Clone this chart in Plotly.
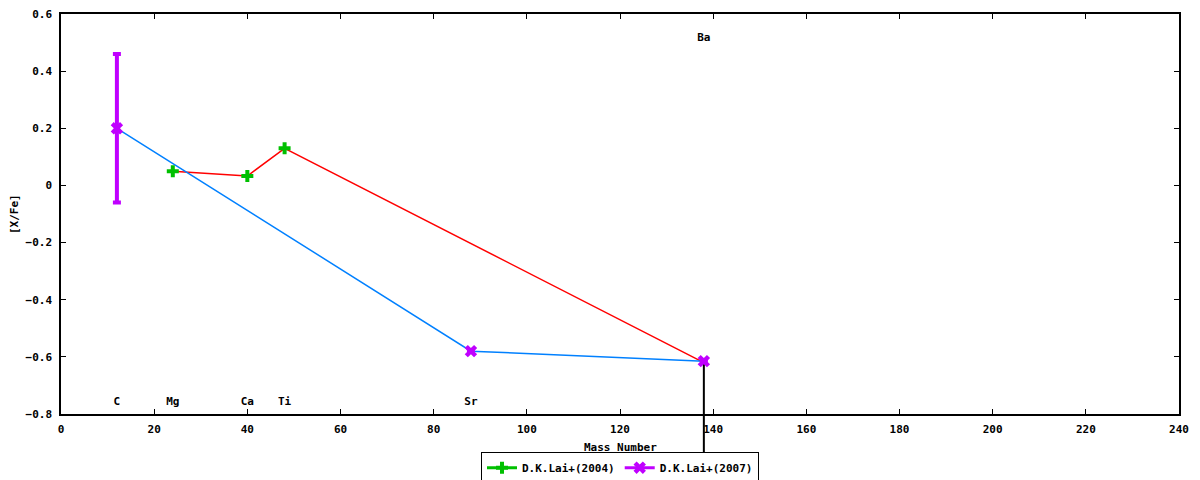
import plotly.graph_objects as go

# element labels and where they sit
elements = ["C", "Mg", "Ca", "Ti", "Sr", "Ba"]
label_mass = [12, 24, 40, 48, 88, 138]
label_y = [-0.76, -0.76, -0.76, -0.76, -0.76, 0.515]

# D.K.Lai+(2004)
lai04_mass = [24, 40, 48, 138]
lai04_xfe = [0.05, 0.033, 0.13, -0.62]

# D.K.Lai+(2007)
lai07_mass = [12, 88, 138]
lai07_xfe = [0.20, -0.58, -0.615]
lai07_err = [0.26, 0.0, 0.0]

# Ba lower-limit bar (black)
ba_mass = [138]
ba_xfe = [-0.62]
ba_err_minus = [0.6]

FONT = dict(family="DejaVu Sans Mono", size=11, color="black", weight="bold")
GREEN = "#00c000"
MAGENTA = "#c000ff"

fig = go.Figure()

# connecting lines
fig.add_trace(go.Scatter(x=lai04_mass, y=lai04_xfe, mode="lines",
                         line=dict(color="#ff0000", width=1.5), showlegend=False, hoverinfo="skip"))
fig.add_trace(go.Scatter(x=lai07_mass, y=lai07_xfe, mode="lines",
                         line=dict(color="#0080ff", width=1.5), showlegend=False, hoverinfo="skip"))

# black bar at Ba, continued below the frame
fig.add_trace(go.Scatter(x=ba_mass, y=ba_xfe, mode="markers", marker=dict(size=1, opacity=0),
                         error_y=dict(type="data", symmetric=False, array=[0], arrayminus=ba_err_minus,
                                      color="black", thickness=2, width=0),
                         showlegend=False, hoverinfo="skip"))
fig.add_shape(type="line", xref="x", yref="paper", x0=ba_mass[0], x1=ba_mass[0], y0=0, y1=-0.2,
              line=dict(color="black", width=2), layer="above")

# data points
fig.add_trace(go.Scatter(x=lai04_mass[:3], y=lai04_xfe[:3], mode="markers", showlegend=False,
                         marker=dict(symbol="cross", size=10, color=GREEN)))
fig.add_trace(go.Scatter(x=lai07_mass, y=lai07_xfe, mode="markers", showlegend=False,
                         marker=dict(symbol="x", size=11, color=MAGENTA),
                         error_y=dict(type="data", array=lai07_err, color=MAGENTA, thickness=4, width=4)))

# legend samples
fig.add_trace(go.Scatter(x=[None], y=[None], mode="lines+markers", name="D.K.Lai+(2004)",
                         line=dict(color=GREEN, width=3), marker=dict(symbol="cross", size=10, color=GREEN)))
fig.add_trace(go.Scatter(x=[None], y=[None], mode="lines+markers", name="D.K.Lai+(2007)",
                         line=dict(color=MAGENTA, width=3), marker=dict(symbol="x", size=11, color=MAGENTA)))

# element labels
fig.add_trace(go.Scatter(x=label_mass, y=label_y, mode="text", text=elements,
                         textfont=FONT, textposition="middle center",
                         showlegend=False, hoverinfo="skip", cliponaxis=False))

axis_common = dict(showline=True, linecolor="black", linewidth=1.5, mirror="ticks",
                   ticks="inside", ticklen=5, tickcolor="black", tickwidth=1,
                   showgrid=False, zeroline=False, tickfont=FONT, automargin=False,
                   ticklabeloverflow="allow")

# the page body adds an 8px margin, so the figure is a little smaller than the window
fig.update_layout(
    width=1192, height=472,
    margin=dict(l=53, r=21, t=6, b=66),
    paper_bgcolor="white", plot_bgcolor="white",
    font=FONT,
    xaxis=dict(range=[0, 240], dtick=20, ticklabelstandoff=4, **axis_common),
    yaxis=dict(range=[-0.8, 0.6], dtick=0.2, ticklabelstandoff=5, **axis_common),
    legend=dict(orientation="h", x=0.5, xanchor="center", yref="container", y=0.026, yanchor="middle",
                bordercolor="black", borderwidth=1, font=FONT, bgcolor="white",
                itemwidth=30, tracegroupgap=0),
    showlegend=True,
    annotations=[
        dict(text="Mass Number", xref="paper", yref="paper", x=0.5, y=-0.0825,
             showarrow=False, font=FONT, xanchor="center", yanchor="middle"),
        dict(text="[X/Fe]", xref="paper", yref="paper", x=-0.042, y=0.5, textangle=-90,
             showarrow=False, font=FONT, xanchor="center", yanchor="middle"),
    ],
)

fig.write_html("out.html")
